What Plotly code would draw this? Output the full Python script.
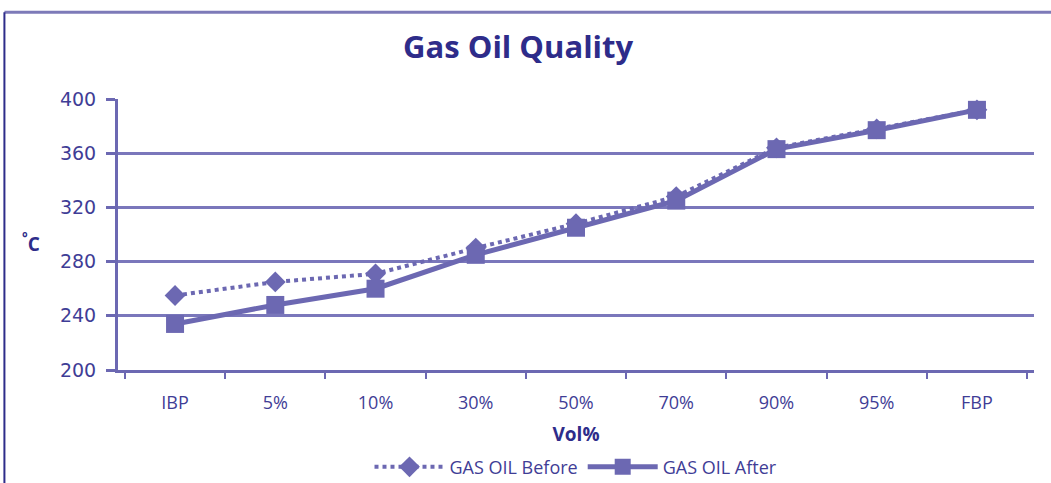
import plotly.graph_objects as go

categories = ["IBP", "5%", "10%", "30%", "50%", "70%", "90%", "95%", "FBP"]
before = [255, 265, 271, 290, 308, 328, 364, 378, 392]
after = [234, 248, 260, 285, 305, 325, 363, 377, 392]
y_ticks = [200, 240, 280, 320, 360, 400]

line_col = "#6c68b2"
text_col = "#3f3d96"
title_col = "#2e2c8a"

fig = go.Figure()
fig.add_trace(go.Scatter(
    x=categories, y=before, name="GAS OIL Before", mode="lines+markers",
    line=dict(color=line_col, width=4, dash="dot"),
    marker=dict(symbol="diamond", size=16, color=line_col),
))
fig.add_trace(go.Scatter(
    x=categories, y=after, name="GAS OIL After", mode="lines+markers",
    line=dict(color=line_col, width=5),
    marker=dict(symbol="square", size=18, color=line_col),
))

fig.update_layout(
    width=1051, height=483,
    margin=dict(l=118, r=17, t=99, b=113, autoexpand=False),
    paper_bgcolor="white", plot_bgcolor="white",
    title=dict(text="<b>Gas Oil Quality</b>", x=0.493, xanchor="center", y=0.902, yanchor="middle",
               font=dict(family="Open Sans", size=31, color=title_col)),
    showlegend=True,
    legend=dict(orientation="h", x=0.5, xanchor="center", y=-0.29, yanchor="top",
                font=dict(family="Open Sans", size=18, color=text_col),
                itemwidth=70, traceorder="normal"),
    xaxis=dict(
        type="category", tickson="boundaries", ticks="outside", ticklen=6, tickwidth=2,
        tickcolor=line_col, showline=True, linecolor=line_col, linewidth=3,
        showgrid=False, tickfont=dict(family="Open Sans", size=18, color=text_col),
        ticklabelstandoff=14,
        title=dict(text="<b>Vol%</b>", font=dict(family="Open Sans", size=19, color=title_col), standoff=16),
    ),
    yaxis=dict(
        range=[200, 400], tickvals=y_ticks, ticks="outside", ticklen=9, tickwidth=3,
        tickcolor=line_col, showline=True, linecolor=line_col, linewidth=3,
        showgrid=True, gridcolor="#7a77bb", gridwidth=3, zeroline=False,
        ticklabelstandoff=6,
        tickfont=dict(family="DejaVu Sans", size=19, color=text_col),
    ),
)

fig.add_annotation(text="<b><sup>°</sup>C</b>", xref="paper", yref="paper", x=-0.107, y=0.47,
                   showarrow=False, font=dict(family="Open Sans", size=19, color=title_col))

# outer chart frame
fig.add_shape(type="line", xref="paper", yref="paper", x0=-0.124, x1=1.02, y0=1.32, y1=1.32,
              line=dict(color="#7d7ab8", width=3))
fig.add_shape(type="line", xref="paper", yref="paper", x0=-0.124, x1=-0.124, y0=1.32, y1=-0.5,
              line=dict(color="#2e2c8a", width=2))

fig.write_html("out.html")
